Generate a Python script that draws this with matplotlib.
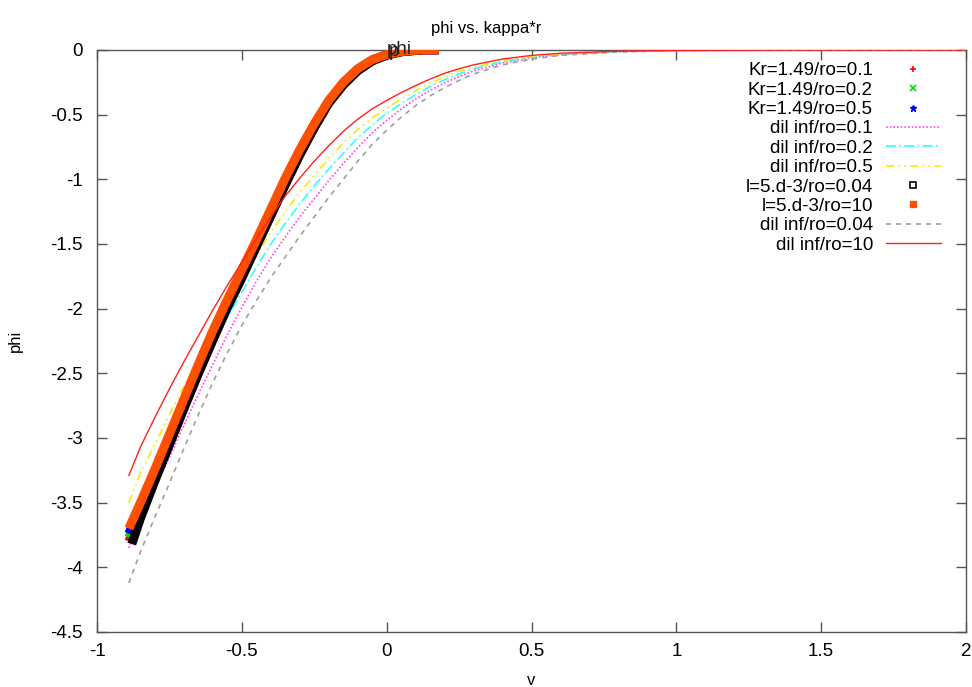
import numpy as np
import matplotlib
matplotlib.use("Agg")
import matplotlib.pyplot as plt
from matplotlib.transforms import offset_copy

plt.rcParams["font.family"] = ["Liberation Sans", "DejaVu Sans"]
plt.rcParams["axes.unicode_minus"] = False

# ---- data ----
# dense point series (drawn as thick bands of points)
x_band = [-0.89, -0.85, -0.8, -0.75, -0.7, -0.65, -0.6, -0.55, -0.5, -0.45, -0.4, -0.35,
          -0.3, -0.25, -0.2, -0.15, -0.1, -0.05, 0.0, 0.05, 0.1, 0.12, 0.18]
kr01 = [-3.80, -3.59, -3.32, -3.05, -2.77, -2.50, -2.24, -1.99, -1.76, -1.52, -1.28, -1.04,
        -0.81, -0.60, -0.41, -0.27, -0.16, -0.082, -0.038, -0.013, -0.002, 0.0, 0.0]
kr02 = [-3.77, -3.56, -3.30, -3.03, -2.75, -2.48, -2.22, -1.98, -1.75, -1.51, -1.27, -1.03,
        -0.80, -0.59, -0.405, -0.262, -0.153, -0.08, -0.037, -0.013, -0.002, 0.0, 0.0]
kr05 = [-3.74, -3.53, -3.27, -3.00, -2.73, -2.46, -2.20, -1.96, -1.73, -1.49, -1.25, -1.01,
        -0.79, -0.58, -0.40, -0.26, -0.15, -0.078, -0.036, -0.012, -0.002, 0.0, 0.0]
l10  = [-3.70, -3.50, -3.24, -2.97, -2.70, -2.43, -2.17, -1.93, -1.70, -1.47, -1.23, -0.99,
        -0.77, -0.57, -0.39, -0.25, -0.145, -0.075, -0.035, -0.012, -0.002, 0.0, 0.0]

x_l004 = [-0.88, -0.85, -0.8, -0.75, -0.7, -0.65, -0.6, -0.55, -0.5, -0.45, -0.4, -0.35,
          -0.3, -0.25, -0.2, -0.15, -0.1, -0.05, 0.0, 0.05, 0.1, 0.12]
l004   = [-3.82, -3.62, -3.33, -3.05, -2.77, -2.50, -2.24, -1.99, -1.76, -1.52, -1.28, -1.04,
          -0.81, -0.60, -0.41, -0.27, -0.16, -0.085, -0.04, -0.014, -0.003, 0.0]

# dilute (infinite) solutions
x_dil  = [-0.89, -0.85, -0.8, -0.75, -0.7, -0.65, -0.6, -0.55, -0.5, -0.45, -0.4, -0.35,
          -0.3, -0.25, -0.2, -0.15, -0.1, -0.05, 0.0, 0.05, 0.1, 0.15, 0.2, 0.25, 0.3,
          0.4, 0.5, 0.6, 0.8, 1.0, 1.25, 1.5, 2.0]
dil01  = [-3.85, -3.62, -3.39, -3.15, -2.90, -2.66, -2.43, -2.20, -1.99, -1.79, -1.605, -1.445,
          -1.29, -1.15, -1.01, -0.88, -0.755, -0.64, -0.545, -0.457, -0.379, -0.312, -0.254,
          -0.205, -0.162, -0.10, -0.061, -0.036, -0.013, -0.0043, -0.0013, 0.0, 0.0]
dil02  = [-3.66, -3.43, -3.20, -2.97, -2.73, -2.50, -2.28, -2.07, -1.87, -1.68, -1.50, -1.34,
          -1.19, -1.05, -0.92, -0.80, -0.68, -0.58, -0.49, -0.415, -0.345, -0.283, -0.23,
          -0.185, -0.145, -0.09, -0.055, -0.033, -0.012, -0.004, -0.0012, 0.0, 0.0]
dil05  = [-3.50, -3.27, -3.05, -2.82, -2.60, -2.38, -2.17, -1.96, -1.77, -1.59, -1.41, -1.25,
          -1.10, -0.97, -0.84, -0.72, -0.615, -0.525, -0.45, -0.38, -0.315, -0.255, -0.21,
          -0.165, -0.135, -0.08, -0.049, -0.029, -0.011, -0.0035, -0.001, 0.0, 0.0]
dil004 = [-4.12, -3.88, -3.61, -3.35, -3.08, -2.82, -2.57, -2.34, -2.13, -1.94, -1.76, -1.60,
          -1.44, -1.29, -1.14, -1.00, -0.86, -0.73, -0.62, -0.52, -0.43, -0.355, -0.29,
          -0.235, -0.185, -0.115, -0.07, -0.042, -0.015, -0.005, -0.0015, 0.0, 0.0]
dil10  = [-3.29, -3.07, -2.84, -2.62, -2.41, -2.21, -2.01, -1.82, -1.64, -1.46, -1.29, -1.13,
          -0.99, -0.86, -0.74, -0.63, -0.535, -0.455, -0.39, -0.33, -0.275, -0.225, -0.18,
          -0.145, -0.115, -0.07, -0.042, -0.025, -0.009, -0.003, -0.001, 0.0, 0.0]

xticks = [-1, -0.5, 0, 0.5, 1, 1.5, 2]
xtick_labels = ["-1", "-0.5", "0", "0.5", "1", "1.5", "2"]
yticks = [0, -0.5, -1, -1.5, -2, -2.5, -3, -3.5, -4, -4.5]
ytick_labels = ["0", "-0.5", "-1", "-1.5", "-2", "-2.5", "-3", "-3.5", "-4", "-4.5"]

FS = 13.5       # tick labels, legend, point label
FS_LAB = 12     # title and axis labels
AXC = "#555555"

fig = plt.figure(figsize=(9.72, 6.87), dpi=100)
fig.patch.set_facecolor("white")
ax = fig.add_axes([97 / 972, 1 - 632 / 687, (966 - 97) / 972, (632 - 50) / 687])

BAND = 6.5  # thickness of the dense point bands, in points

def band(x, y, color, z):
    ax.plot(x, y, color=color, lw=BAND, solid_capstyle="butt", solid_joinstyle="round", zorder=z)

band(x_band, kr01, "#ff0000", 2)
ax.plot([], [], ls="none", marker="+", ms=5, mew=1.2, color="#ff0000", label="Kr=1.49/ro=0.1")
band(x_band, kr02, "#00e000", 2)
ax.plot([], [], ls="none", marker="x", ms=4, mew=1.2, color="#00e000", label="Kr=1.49/ro=0.2")
band(x_band, kr05, "#0000ff", 2)
ax.plot([], [], ls="none", marker="*", ms=5, color="#0000ff", label="Kr=1.49/ro=0.5")
ax.plot(x_dil, dil01, color="#ff40ff", lw=1.2, ls=(0, (1, 1.2)), label="dil inf/ro=0.1", zorder=2)
ax.plot(x_dil, dil02, color="#30ffff", lw=1.2, ls=(0, (6, 2, 1, 2)), label="dil inf/ro=0.2", zorder=2)
ax.plot(x_dil, dil05, color="#f4ee00", lw=1.2, ls=(0, (5, 2.5, 1, 2.5, 1, 2.5)),
        label="dil inf/ro=0.5", zorder=2)
band(x_l004, l004, "black", 3)
ax.plot([], [], ls="none", marker="s", ms=4.5, mfc="white", mec="black", mew=1.2,
        label="l=5.d-3/ro=0.04")
band(x_band, l10, "#ff5000", 4)
ax.plot([], [], ls="none", marker="s", ms=5, color="#ff5000", label="l=5.d-3/ro=10")
ax.plot(x_dil, dil004, color="#a0a0a0", lw=1.2, ls=(0, (3, 3)), label="dil inf/ro=0.04", zorder=5)
ax.plot(x_dil, dil10, color="#ff2020", lw=1.0, label="dil inf/ro=10", zorder=6)

# point label at the origin (printed twice, slightly offset)
ax.text(0.0, 0.0, "phi", fontsize=FS, color="#202020", ha="left", va="center", zorder=7)
ax.text(0.0, 0.0, "p", fontsize=FS, color="#202020", ha="left", va="center", zorder=7,
        transform=offset_copy(ax.transData, fig=fig, x=2, y=-1, units="dots"))

ax.set_xlim(-1, 2)
ax.set_ylim(-4.5, 0)
ax.set_xticks(xticks)
ax.set_xticklabels(xtick_labels)
ax.set_yticks(yticks)
ax.set_yticklabels(ytick_labels)
ax.tick_params(direction="in", length=7, width=1, color=AXC, labelsize=FS,
               top=True, right=True)
ax.tick_params(axis="x", pad=8)
ax.tick_params(axis="y", pad=10)
for s in ax.spines.values():
    s.set_color(AXC)
    s.set_linewidth(1.0)

ax.set_title("phi vs. kappa*r", fontsize=FS_LAB, x=(486 - 97) / 869, pad=12)
ax.set_xlabel("v", fontsize=FS_LAB, labelpad=9)
ax.set_ylabel("phi", fontsize=FS_LAB, labelpad=20)

ax.legend(loc="upper right", bbox_to_anchor=(0.971, 0.979), frameon=False, markerfirst=False,
          fontsize=FS, handlelength=2.93, handletextpad=0.69, labelspacing=0.12,
          borderpad=0.0, borderaxespad=0.0)

fig.savefig("out.png", dpi=100, facecolor="white")
